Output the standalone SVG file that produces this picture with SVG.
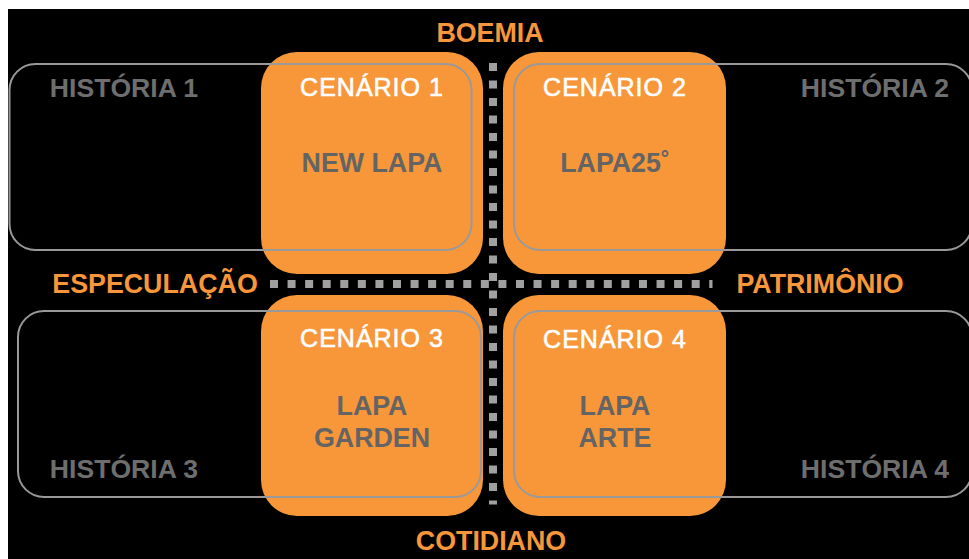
<svg xmlns="http://www.w3.org/2000/svg" width="969" height="559" viewBox="0 0 969 559">
<style>
.bg{fill:#000}
.box{fill:#f7973a}
.hist{fill:none;stroke:#999;stroke-width:2}
.axis{font-family:"Liberation Sans",Arial,sans-serif;font-weight:bold;font-size:26.8px;fill:#f7963a;text-anchor:middle}
.htxt{font-family:"Liberation Sans",Arial,sans-serif;font-weight:bold;font-size:26.6px;fill:#6e6e6e;text-anchor:middle}
.cen{font-family:"Liberation Sans",Arial,sans-serif;font-size:25px;fill:#fff;stroke:#fff;stroke-width:0.6;text-anchor:middle;letter-spacing:1px}
.name{font-family:"Liberation Sans",Arial,sans-serif;font-weight:bold;font-size:26.8px;fill:#646464;text-anchor:middle}
.dots{stroke:#a0a0a0;stroke-width:8;fill:none}
</style>
<rect x="0" y="0" width="969" height="559" fill="#fff"/>
<rect class="bg" x="8" y="9" width="961" height="550"/>
<g id="cenario1">
<rect class="box" x="261" y="52" width="222" height="222" rx="36"/>
<text class="cen" x="372" y="96">CENÁRIO 1</text>
<text class="name" x="372" y="172">NEW LAPA</text>
</g>
<g id="cenario2">
<rect class="box" x="503" y="52" width="223" height="222" rx="36"/>
<text class="cen" x="615" y="96">CENÁRIO 2</text>
<text class="name" x="615" y="172">LAPA25˚</text>
</g>
<g id="cenario3">
<rect class="box" x="261" y="295" width="222" height="221" rx="36"/>
<text class="cen" x="372" y="347">CENÁRIO 3</text>
<text class="name" x="372" y="415">LAPA</text>
<text class="name" x="372" y="447">GARDEN</text>
</g>
<g id="cenario4">
<rect class="box" x="503" y="295" width="223" height="221" rx="36"/>
<text class="cen" x="615" y="348">CENÁRIO 4</text>
<text class="name" x="615" y="415">LAPA</text>
<text class="name" x="615" y="447">ARTE</text>
</g>
<g id="historia1">
<rect class="hist" x="9.5" y="64" width="462" height="186" rx="26"/>
<text class="htxt" x="124" y="97">HISTÓRIA 1</text>
</g>
<g id="historia2">
<rect class="hist" x="514" y="64" width="458" height="186" rx="26"/>
<text class="htxt" x="875" y="97">HISTÓRIA 2</text>
</g>
<g id="historia3">
<rect class="hist" x="18" y="311" width="463" height="186" rx="26"/>
<text class="htxt" x="124" y="478">HISTÓRIA 3</text>
</g>
<g id="historia4">
<rect class="hist" x="514" y="311" width="458" height="186" rx="26"/>
<text class="htxt" x="875" y="478">HISTÓRIA 4</text>
</g>
<g id="connectors">
<line class="dots" x1="493" y1="63" x2="493" y2="504.5" stroke-dasharray="8 9.5"/>
<line class="dots" x1="270" y1="284" x2="712.5" y2="284" stroke-dasharray="8 9.57"/>
</g>
<g id="axes">
<text class="axis" x="490" y="42">BOEMIA</text>
<text class="axis" x="491" y="550">COTIDIANO</text>
<text class="axis" x="155" y="293">ESPECULAÇÃO</text>
<text class="axis" x="820" y="293">PATRIMÔNIO</text>
</g>
</svg>
